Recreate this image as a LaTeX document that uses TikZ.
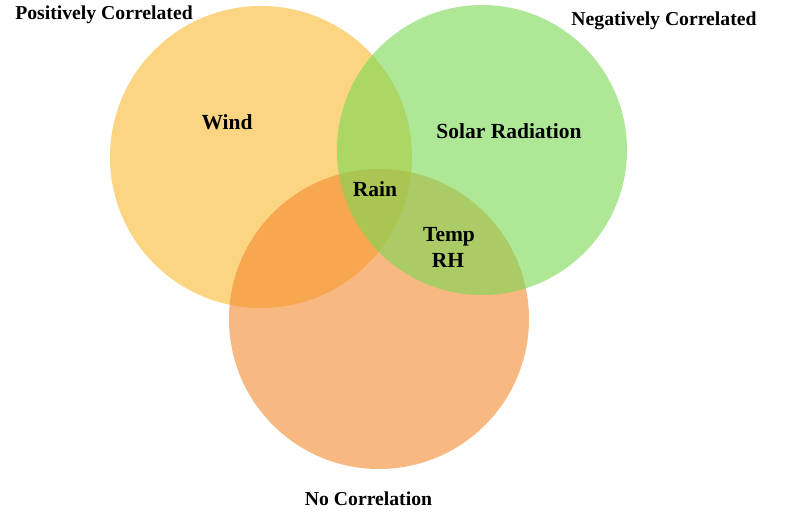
\documentclass[tikz,border=0pt]{standalone}
\usepackage{fontspec}
\setmainfont{Liberation Serif}
\definecolor{cyellow}{RGB}{250,185,47}
\definecolor{corange}{RGB}{243,137,47}
\definecolor{cgreen}{RGB}{120,217,83}
\tikzset{
  venn/.style={fill opacity=0.6, draw=none},
  outerlabel/.style={anchor=base, inner sep=0pt, font=\bfseries\fontsize{19.7}{23}\selectfont},
  innerlabel/.style={anchor=base, inner sep=0pt, font=\bfseries\fontsize{21.5}{26}\selectfont}
}
\begin{document}
\begin{tikzpicture}[x=1pt,y=-1pt]
\useasboundingbox (0,0) rectangle (787,513);
\fill[white] (0,0) rectangle (787,513);
\fill[venn, cyellow] (261,157) circle (151);
\fill[venn, corange] (379,319) circle (150);
\fill[venn, cgreen] (482,150) circle (145);
\node[outerlabel] (pos) at (104,20) {Positively Correlated};
\node[outerlabel] (neg) at (664,26) {Negatively Correlated};
\node[outerlabel] (noc) at (368.5,505) {No Correlation};
\node[innerlabel] (wind) at (227,130) {Wind};
\node[innerlabel] (solar) at (509,139) {Solar Radiation};
\node[innerlabel] (rain) at (375,197) {Rain};
\node[innerlabel] (temp) at (449,241) {Temp};
\node[innerlabel] (rh) at (448,267) {RH};
\end{tikzpicture}
\end{document}
